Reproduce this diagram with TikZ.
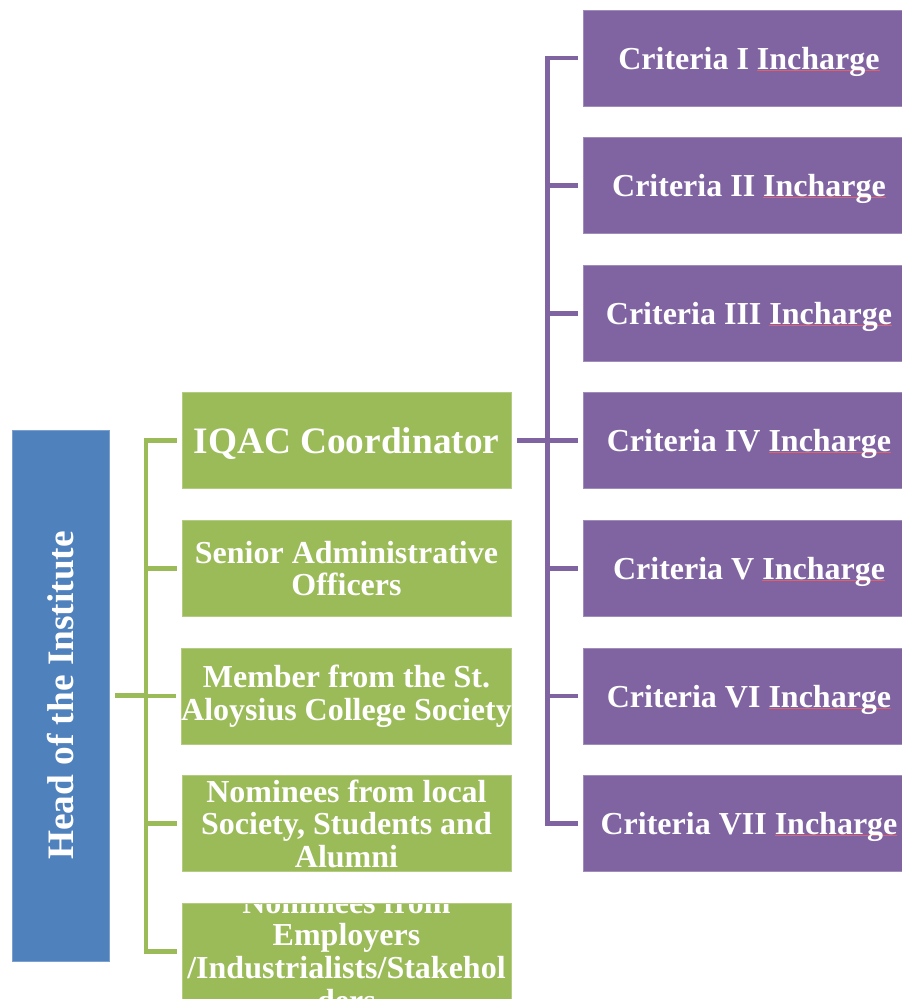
\documentclass[tikz,border=0pt]{standalone}
\usepackage{fontspec}
\setmainfont{Liberation Serif}
\usepackage{tikz}
\definecolor{headblue}{HTML}{4F81BD}
\definecolor{memgreen}{HTML}{9BBB59}
\definecolor{critpurple}{HTML}{8064A2}
\definecolor{spellred}{HTML}{E06070}
\newlength{\marklen}
\newcommand{\spellmark}[1]{\settowidth{\marklen}{#1}\rlap{\textcolor{spellred}{\rule[-0.9pt]{\marklen}{0.5pt}}}#1}

\begin{document}
\begin{tikzpicture}[x=0.75pt,y=-0.75pt]
\tikzset{box/.style = {rectangle, inner sep=0pt, text=white, align=center, font=\bfseries\fontsize{24pt}{24.5pt}\selectfont}}
\tikzset{bigtext/.style = {font=\bfseries\fontsize{28pt}{30pt}\selectfont}}
\tikzset{headbox/.style = {box, fill=headblue, draw=headblue!75!white, line width=0.6pt, minimum width=72.75pt, minimum height=398.25pt}}
\tikzset{membox/.style = {box, fill=memgreen, draw=memgreen!75!white, line width=0.6pt, minimum width=246.75pt, minimum height=72pt}}
\tikzset{critbox/.style = {box, fill=critpurple, draw=critpurple!75!white, line width=0.6pt, minimum width=249pt, minimum height=72pt, text depth=0pt}}
\tikzset{memline/.style = {draw=memgreen, line width=3.6pt}}
\tikzset{critline/.style = {draw=critpurple, line width=3.6pt}}

\useasboundingbox (0,0) rectangle (902,999);

\node[headbox] (head) at (60.5,695.5) {};
\node[box, bigtext, rotate=90] (headtext) at (head) {Head of the Institute};

\node[membox, bigtext, text depth=0pt] (iqac) at (346.5,440.8) {IQAC Coordinator};
\node[membox] (senior) at (346.5,568.4) {Senior Administrative\\Officers};
\node[membox] (member) at (346.5,696) {Member from the St.\\Aloysius College Society};
\node[membox] (localnom) at (346.5,823.6) {Nominees from local\\Society, Students and\\Alumni};
\node[membox, path picture={\node[box] (employtext) at (path picture bounding box.center)
  {Nominees from\\Employers\\/Industrialists/Stakehol\\ders};}] (employnom) at (346.5,951.2) {};

\foreach \num [count=\i from 0] in {I,II,III,IV,V,VI,VII}
  \node[critbox] (crit\i) at (749,{58+127.6*\i}) {Criteria \num\ \spellmark{Incharge}};

\coordinate (membus) at (146,696);
\coordinate (critbus) at (547.5,440.8);

\draw[memline, shorten <=4.5pt] (head.east) -- (head.east -| membus);
\draw[memline, shorten <=3.75pt, shorten >=3.75pt] (iqac.west) -| (membus) |- (employnom.west);
\foreach \m in {senior,member,localnom}
  \draw[memline, shorten >=3.75pt] (membus |- \m.west) -- (\m.west);

\draw[critline, shorten <=4.2pt] (iqac.east) -- (critbus);
\draw[critline, shorten <=3.75pt, shorten >=3.75pt] (crit0.west) -| (critbus) |- (crit6.west);
\foreach \i in {1,...,5}
  \draw[critline, shorten >=3.75pt] (critbus |- crit\i.west) -- (crit\i.west);

\end{tikzpicture}
\end{document}
